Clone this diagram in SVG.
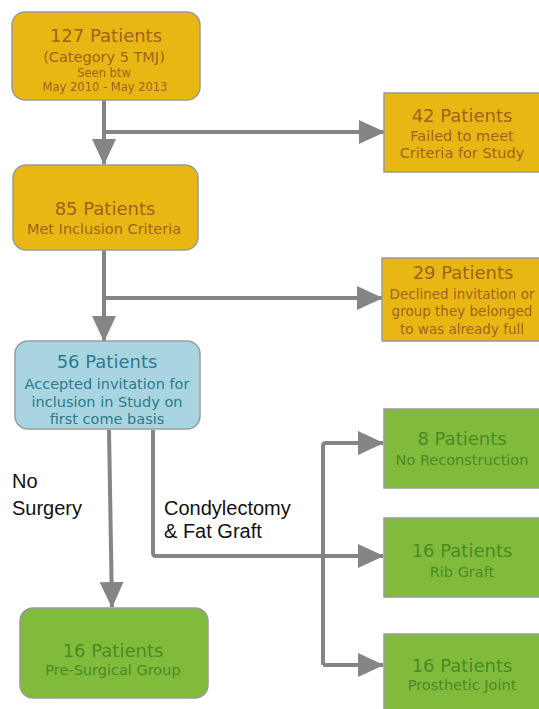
<svg xmlns="http://www.w3.org/2000/svg" width="539" height="709" viewBox="0 0 539 709">
<defs>
<marker id="ah" markerUnits="userSpaceOnUse" markerWidth="26" markerHeight="24" refX="25" refY="12" orient="auto">
<path d="M0,0 L26,12 L0,24 z" fill="#858585"/>
</marker>
<style>
.y{fill:#e9b714;stroke:#9a9a9a;stroke-width:1.5}
.g{fill:#80bb3c;stroke:#9a9a9a;stroke-width:1.5}
.b{fill:#a9d5e0;stroke:#9a9a9a;stroke-width:1.5}
text{font-family:"DejaVu Sans","Noto Sans",sans-serif;text-anchor:middle}
.ty{fill:#a0621b}
.tg{fill:#4a8a22}
.tb{fill:#2d7a8a}
.h{font-size:18px}
.s{font-size:14.5px}
.s2{font-size:13.5px}
.xs{font-size:11.5px}
.lbl{font-family:"Liberation Sans","Open Sans",sans-serif;font-size:20px;fill:#111;text-anchor:start}
.c{fill:none;stroke:#858585;stroke-width:4}
</style>
</defs>
<rect width="539" height="709" fill="#fff"/>
<g id="connectors">
<path class="c" d="M104,100 V164" marker-end="url(#ah)"/>
<path class="c" d="M104,132 H384" marker-end="url(#ah)"/>
<path class="c" d="M104,250 V341" marker-end="url(#ah)"/>
<path class="c" d="M104,298 H382" marker-end="url(#ah)"/>
<path class="c" d="M109,430 L112,607" marker-end="url(#ah)"/>
<path class="c" d="M153,430 V553 Q153,556 156,556 H323"/>
<path class="c" d="M323,665 V446 Q323,443 326,443 H383" marker-end="url(#ah)"/>
<path class="c" d="M323,556 H383" marker-end="url(#ah)"/>
<path class="c" d="M323,665 H383" marker-end="url(#ah)"/>
</g>
<g id="n127">
<rect class="y" x="12" y="12" width="188" height="88" rx="13"/>
<text class="ty h" x="106" y="42">127 Patients</text>
<text class="ty s" x="104" y="62">(Category 5 TMJ)</text>
<text class="ty xs" x="104" y="77">Seen btw</text>
<text class="ty xs" x="105" y="91">May 2010 - May 2013</text>
</g>
<g id="n42">
<rect class="y" x="384" y="93" width="160" height="79"/>
<text class="ty h" x="462" y="122">42 Patients</text>
<text class="ty s" x="462" y="141">Failed to meet</text>
<text class="ty s" x="462" y="158">Criteria for Study</text>
</g>
<g id="n85">
<rect class="y" x="13" y="165" width="185" height="85" rx="13"/>
<text class="ty h" x="105" y="215">85 Patients</text>
<text class="ty s" x="104" y="234">Met Inclusion Criteria</text>
</g>
<g id="n29">
<rect class="y" x="382" y="258" width="165" height="83"/>
<text class="ty h" x="463" y="279">29 Patients</text>
<text class="ty s2" x="462" y="299">Declined invitation or</text>
<text class="ty s2" x="462" y="316">group they belonged</text>
<text class="ty s2" x="462" y="334">to was already full</text>
</g>
<g id="n56">
<rect class="b" x="15" y="341" width="185" height="88" rx="13"/>
<text class="tb h" x="107" y="368">56 Patients</text>
<text class="tb s" x="107" y="389">Accepted invitation for</text>
<text class="tb s" x="107" y="407">inclusion in Study on</text>
<text class="tb s" x="107" y="424">first come basis</text>
</g>
<g id="n8">
<rect class="g" x="384" y="409" width="160" height="79"/>
<text class="tg h" x="462" y="445">8 Patients</text>
<text class="tg s" x="462" y="465">No Reconstruction</text>
</g>
<g id="nrib">
<rect class="g" x="384" y="518" width="160" height="79"/>
<text class="tg h" x="462" y="557">16 Patients</text>
<text class="tg s" x="462" y="577">Rib Graft</text>
</g>
<g id="nprost">
<rect class="g" x="384" y="634" width="160" height="80"/>
<text class="tg h" x="462" y="672">16 Patients</text>
<text class="tg s" x="462" y="690">Prosthetic Joint</text>
</g>
<g id="npre">
<rect class="g" x="20" y="608" width="188" height="90" rx="13"/>
<text class="tg h" x="113" y="657">16 Patients</text>
<text class="tg s" x="113" y="675">Pre-Surgical Group</text>
</g>
<g id="labels">
<text class="lbl" x="12" y="488">No</text>
<text class="lbl" x="12" y="515">Surgery</text>
<text class="lbl" x="164" y="515">Condylectomy</text>
<text class="lbl" x="164" y="538">&amp; Fat Graft</text>
</g>
</svg>
